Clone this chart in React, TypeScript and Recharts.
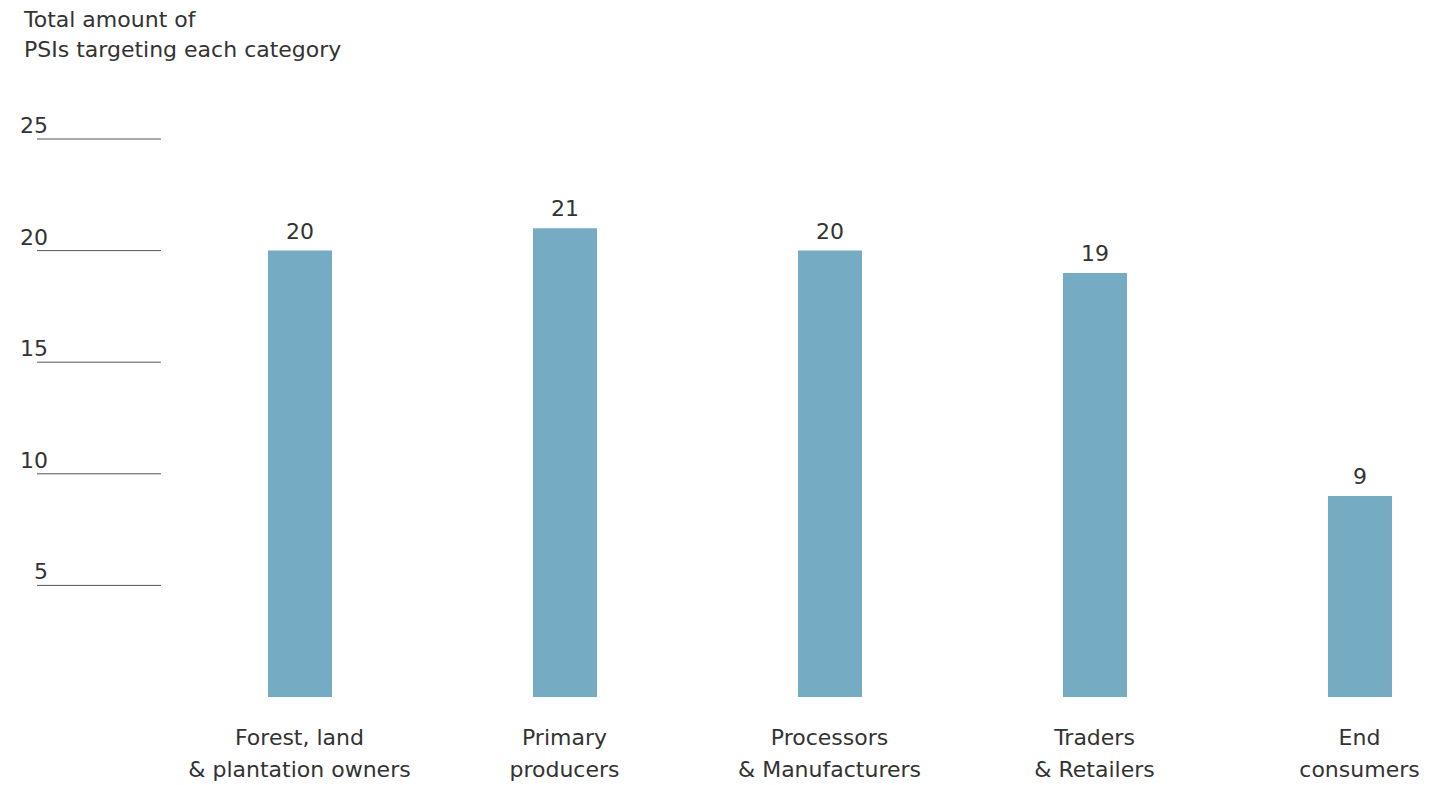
import React from "react";
import { BarChart, Bar, XAxis, YAxis, LabelList } from "recharts";

const categories = [
  "Forest, land\n& plantation owners",
  "Primary\nproducers",
  "Processors\n& Manufacturers",
  "Traders\n& Retailers",
  "End\nconsumers",
];
const values = [20, 21, 20, 19, 9];
const yTicks = [5, 10, 15, 20, 25];
const titleLines = ["Total amount of", "PSIs targeting each category"];

const data = categories.map((c, i) => ({ category: c, value: values[i] }));

const FONT = "'DejaVu Sans', 'Liberation Sans', Arial, sans-serif";
const TEXT = "#333333";

const YTick = (props: any) => {
  const { y, payload } = props;
  return (
    <g>
      <text x={48} y={y - 6} textAnchor="end" fill={TEXT} fontSize={22} fontFamily={FONT}>
        {payload.value}
      </text>
      <line x1={37} x2={161} y1={y} y2={y} stroke="#555" strokeWidth={1} />
    </g>
  );
};

const XTick = (props: any) => {
  const { x, y, payload } = props;
  const lines = String(payload.value).split("\n");
  return (
    <g>
      <text x={x} y={y} textAnchor="middle" fill={TEXT} fontSize={22} fontFamily={FONT}>
        {lines.map((l, i) => (
          <tspan key={i} x={x} dy={i === 0 ? 40 : 32}>
            {l}
          </tspan>
        ))}
      </text>
    </g>
  );
};

export default function App() {
  return (
    <div style={{ position: "absolute", left: 0, top: 0, width: 1438, height: 785, overflow: "hidden", background: "#fff" }}>
      <div
        style={{
          position: "absolute",
          left: 24,
          top: 5,
          fontFamily: FONT,
          fontSize: 22,
          lineHeight: "30px",
          color: TEXT,
        }}
      >
        {titleLines.map((t, i) => (
          <div key={i}>{t}</div>
        ))}
      </div>
      <BarChart
        width={1492}
        height={785}
        data={data}
        margin={{ top: 139, right: 0, bottom: 7, left: 0 }}
        barCategoryGap={0}
      >
        <YAxis
          type="number"
          domain={[0, 25]}
          ticks={yTicks}
          width={167}
          axisLine={false}
          tickLine={false}
          tick={<YTick />}
          interval={0}
        />
        <XAxis
          dataKey="category"
          type="category"
          height={81}
          axisLine={false}
          tickLine={false}
          tick={<XTick />}
          interval={0}
        />
        <Bar dataKey="value" fill="#75abc3" barSize={64} isAnimationActive={false}>
          <LabelList dataKey="value" position="top" offset={12} fill={TEXT} fontSize={22} fontFamily={FONT} />
        </Bar>
      </BarChart>
    </div>
  );
}
